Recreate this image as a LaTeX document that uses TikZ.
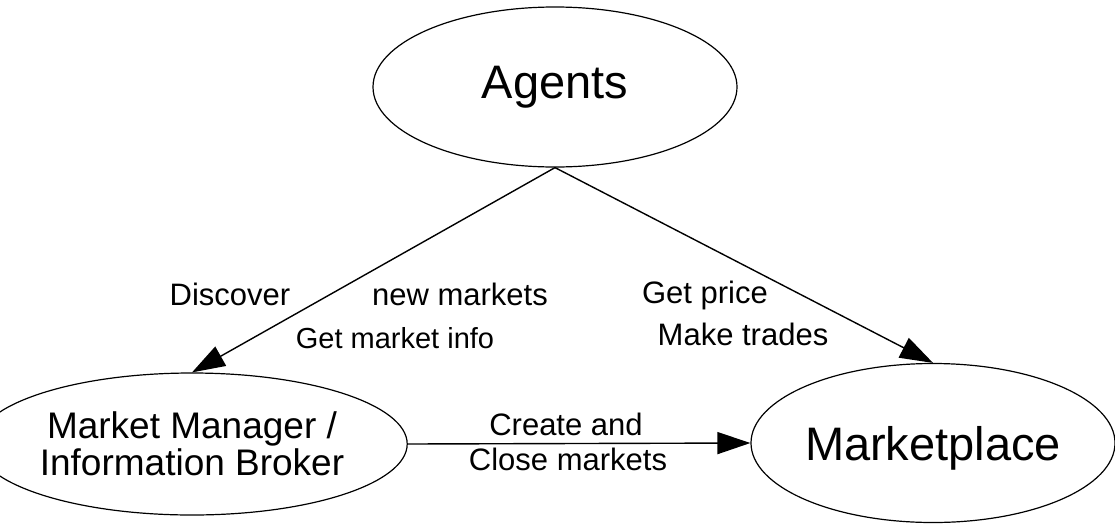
\documentclass[tikz,border=0pt]{standalone}
\usepackage{fontspec}
\setmainfont{Liberation Sans}
\usetikzlibrary{arrows.meta,shapes.geometric}
\begin{document}
\begin{tikzpicture}[x=1pt,y=-1pt,
  blob/.style={draw, ellipse, line width=1.2pt, inner sep=0pt, align=center},
  flow/.style={line width=1.4pt, -{Triangle[length=33pt,width=22pt]}},
  lbl/.style={anchor=base, font=\fontsize{31}{31}\selectfont, inner sep=0pt}]
\useasboundingbox (0,0) rectangle (1115,525);

% the three parties
\node[blob, minimum width=364pt, minimum height=160pt,
      font=\fontsize{47}{47}\selectfont] (ag) at (555,87) {Agents};
\node[blob, minimum width=375pt, minimum height=142pt,
      font=\fontsize{37}{37}\selectfont] (mm) at (192,444) {Market Manager /\\Information Broker};
\node[blob, minimum width=364pt, minimum height=159pt, text depth=0pt,
      font=\fontsize{47}{47}\selectfont] (mp) at (933,443) {Marketplace};

% interactions
\draw[flow] (ag.south) -- (mm.north);
\draw[flow] (ag.south) -- (mp.north);
\draw[flow] (mm.east) -- (mp.west);

% interaction labels
\node[lbl] (l1) at (230,305) {Discover};
\node[lbl] (l2) at (460,305) {new markets};
\node[lbl, font=\fontsize{29}{29}\selectfont] (l3) at (395,348) {Get market info};
\node[lbl] (l4) at (705,303) {Get price};
\node[lbl] (l5) at (743,345) {Make trades};
\node[lbl] (l6) at (566,435) {Create and};
\node[lbl] (l7) at (568,470) {Close markets};
\end{tikzpicture}
\end{document}
